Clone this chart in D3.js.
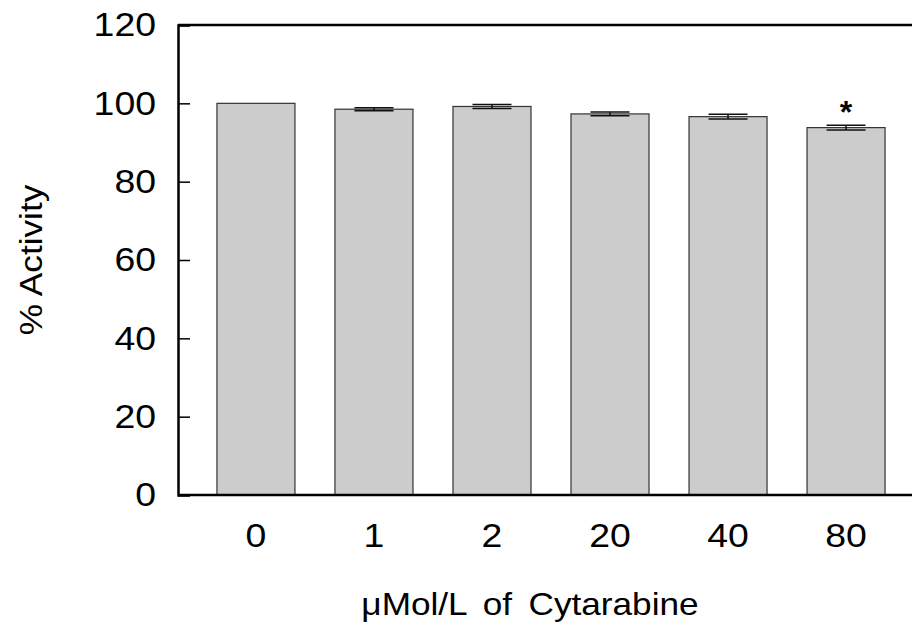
<!DOCTYPE html>
<html>
<head>
<meta charset="utf-8">
<script src="https://cdn.jsdelivr.net/npm/d3@7"></script>
<style>
  body { margin: 0; background: #fff; }
  svg { display: block; font-family: "Liberation Sans", Arial, sans-serif; }
</style>
</head>
<body>
<div id="chart"></div>
<script>
// values
const categories = ['0', '1', '2', '20', '40', '80'];
const activity = [100, 98.5, 99.2, 97.3, 96.6, 93.8];
const errors = [0, 0.4, 0.5, 0.5, 0.6, 0.6];
const significant = [false, false, false, false, false, true];
const yTicks = [0, 20, 40, 60, 80, 100, 120];

const width = 912, height = 624;
const margin = { top: 25, right: -12, bottom: 129, left: 178 };
const stretch = 1.1; // the original text is a little wider than Arial

const svg = d3.select('#chart')
    .append('svg')
    .attr('width', width)
    .attr('height', height);

const x = d3.scaleBand()
    .domain(categories)
    .range([margin.left, width - margin.right])
    .paddingInner(0.339)
    .paddingOuter(0.33);

const y = d3.scaleLinear()
    .domain([0, 120])
    .range([height - margin.bottom, margin.top]);

const data = categories.map((c, i) => ({ c, v: activity[i], e: errors[i], s: significant[i] }));

// bars
svg.append('g')
    .selectAll('rect')
    .data(data)
    .enter()
    .append('rect')
    .attr('x', d => x(d.c))
    .attr('y', d => y(d.v))
    .attr('width', x.bandwidth())
    .attr('height', d => y(0) - y(d.v))
    .attr('fill', '#cccccc')
    .attr('stroke', '#333')
    .attr('stroke-width', 1.2);

// error bars
const eb = svg.append('g')
    .selectAll('g')
    .data(data.filter(d => d.e > 0))
    .enter()
    .append('g')
    .attr('stroke', '#111')
    .attr('stroke-width', 1.5);

const cap = () => x.bandwidth() / 4;
eb.append('line')
    .attr('x1', d => x(d.c) + x.bandwidth() / 2)
    .attr('x2', d => x(d.c) + x.bandwidth() / 2)
    .attr('y1', d => y(d.v + d.e))
    .attr('y2', d => y(d.v - d.e));
eb.append('line')
    .attr('x1', d => x(d.c) + x.bandwidth() / 2 - cap())
    .attr('x2', d => x(d.c) + x.bandwidth() / 2 + cap())
    .attr('y1', d => y(d.v + d.e))
    .attr('y2', d => y(d.v + d.e));
eb.append('line')
    .attr('x1', d => x(d.c) + x.bandwidth() / 2 - cap())
    .attr('x2', d => x(d.c) + x.bandwidth() / 2 + cap())
    .attr('y1', d => y(d.v - d.e))
    .attr('y2', d => y(d.v - d.e));

// significance marks
svg.append('g')
    .selectAll('text')
    .data(data.filter(d => d.s))
    .enter()
    .append('text')
    .attr('x', d => x(d.c) + x.bandwidth() / 2)
    .attr('y', d => y(d.v + d.e) - 2)
    .attr('text-anchor', 'middle')
    .attr('font-size', 32)
    .attr('font-weight', 'bold')
    .text('*');

// y axis
const yAxis = svg.append('g')
    .attr('transform', `translate(${margin.left},0)`)
    .call(d3.axisLeft(y).tickValues(yTicks).tickSize(-12).tickPadding(22));
yAxis.select('.domain').attr('stroke', '#000').attr('stroke-width', 2.5);
yAxis.selectAll('.tick line').attr('stroke', '#000').attr('stroke-width', 1.5);
yAxis.selectAll('.tick text')
    .attr('x', 0)
    .attr('transform', `translate(-22,0) scale(${stretch},1)`)
    .attr('font-size', 34)
    .attr('fill', '#000')
    .attr('font-family', '"Liberation Sans", Arial, sans-serif');

// top line
svg.append('line')
    .attr('x1', margin.left)
    .attr('x2', width)
    .attr('y1', y(120))
    .attr('y2', y(120))
    .attr('stroke', '#000')
    .attr('stroke-width', 2.5);

// x axis
const xAxis = svg.append('g')
    .attr('transform', `translate(0,${y(0)})`)
    .call(d3.axisBottom(x).tickSize(0).tickPadding(28));
xAxis.select('.domain').remove();
svg.append('line')
    .attr('x1', margin.left)
    .attr('x2', width)
    .attr('y1', y(0))
    .attr('y2', y(0))
    .attr('stroke', '#000')
    .attr('stroke-width', 2.5);
xAxis.selectAll('.tick text')
    .attr('transform', `scale(${stretch},1)`)
    .attr('font-size', 34)
    .attr('fill', '#000')
    .attr('font-family', '"Liberation Sans", Arial, sans-serif');

// axis titles
svg.append('text')
    .attr('transform', `translate(530,615) scale(${stretch},1)`)
    .attr('text-anchor', 'middle')
    .attr('font-size', 32)
    .attr('word-spacing', 6)
    .text('μMol/L of Cytarabine');

svg.append('text')
    .attr('transform', `translate(42,${(y(0) + y(120)) / 2}) rotate(-90) scale(${stretch},1)`)
    .attr('text-anchor', 'middle')
    .attr('font-size', 32)
    .text('% Activity');
</script>
</body>
</html>
